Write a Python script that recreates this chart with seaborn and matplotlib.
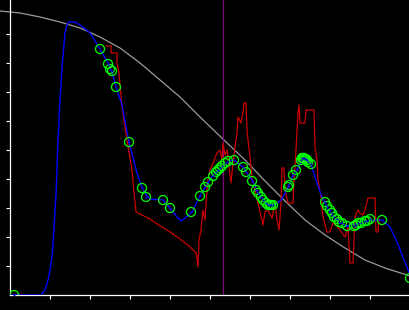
import matplotlib
matplotlib.use("Agg")
import matplotlib.pyplot as plt
import seaborn as sns

# ---- data ----
gray_x = [-10, 10, 30, 50, 70, 90, 110, 130, 150, 170, 190, 215, 235, 255, 275, 295, 315, 335, 355, 375, 400]
gray_y = [284, 282, 278, 273, 267, 258, 247, 232, 215, 198, 178, 154, 135, 114, 94, 75, 60, 47, 35, 27, 19]

vline_x = 213

blue_x = [0, 31, 35, 38, 40, 42, 43, 44, 46, 48, 50, 52, 55, 57, 59, 65, 70, 80, 90, 98,
          102, 106, 112, 119, 127, 132, 137, 140, 153, 160, 167, 171, 175, 182, 190, 195,
          203, 212, 218, 224, 233, 242, 248, 257, 265, 272, 278, 283, 287, 293, 297, 301,
          307, 312, 317, 323, 330, 337, 345, 357, 372, 380, 387, 393, 400]
blue_y = [0, 0, 5, 15, 25, 38, 52, 68, 100, 155, 195, 228, 262, 270, 273, 273, 270, 262, 246, 232,
          223, 208, 190, 153, 122, 108, 99, 96, 95, 87, 78, 74, 77, 83, 99, 108,
          120, 128, 133, 135, 128, 115, 102, 91, 90, 96, 108, 120, 125, 136, 136, 131,
          112, 98, 88, 78, 72, 69, 71, 74, 75, 68, 53, 38, 20]

red_x = [96, 101, 101, 107, 107, 109, 110, 112, 115, 117, 120, 122, 124, 126, 130, 140, 150, 160,
         170, 180, 186, 187, 188, 189, 191, 193, 195, 196, 198, 200, 203, 207, 210, 212, 213,
         215, 217, 219, 221, 223, 225, 227, 228, 231, 233, 234, 236, 237, 238, 240, 242,
         245, 248, 252, 253, 255, 258, 262, 265, 267, 269, 271, 272, 274, 275, 278, 283, 284,
         286, 288, 289,
         290, 295, 296, 304, 305, 307, 308, 311, 313, 317, 320, 323, 328, 332, 335,
         338, 340, 343, 345, 348, 350, 353, 355, 358, 365, 366, 368, 369]
red_y = [249, 249, 242, 242, 232, 222, 210, 188, 168, 155, 137, 125, 102, 83, 81, 76, 69, 63,
         56, 48, 42, 37, 28, 55, 65, 85, 75, 92, 115, 125, 132, 142, 145, 135, 152,
         140, 145, 128, 112, 132, 148, 162, 178, 172, 183, 192, 192, 165, 155, 138, 118,
         105, 92, 75, 70, 83, 85, 77, 92, 75, 65, 92, 127, 127, 105, 92, 92, 115,
         145, 182, 190,
         172, 172, 185, 185, 148, 135, 115, 98, 78, 63, 63, 72, 68, 62, 58,
         68, 32, 32, 78, 85, 82, 80, 85, 97, 97, 63, 63, 75]

pts_x = [4, 90, 98, 100, 102, 106, 119, 132, 136, 153, 160, 181, 190, 195, 198, 203, 206, 208,
         210, 212, 215, 218, 224, 233, 236, 242, 246, 248, 251, 253, 256, 258, 260, 261, 263,
         278, 279, 283, 286, 291, 292, 293, 294, 295, 296, 297, 298, 301, 315, 317, 320, 322,
         324, 327, 329, 332, 337, 344, 346, 348, 351, 355, 357, 360, 372, 400]
pts_y = [0, 246, 231, 226, 224, 208, 153, 107, 98, 95, 87, 83, 99, 108, 113, 119, 123, 125,
         127, 129, 132, 134, 135, 128, 123, 114, 105, 102, 98, 95, 92, 90, 90, 90, 90,
         108, 110, 120, 125, 135, 137, 137, 137, 136, 136, 135, 133, 131, 93, 89, 85, 82,
         78, 76, 73, 72, 69, 69, 70, 72, 72, 74, 74, 76, 75, 17]

x_ticks = [40, 80, 120, 160, 200, 240, 280, 320, 360]
y_ticks = [29, 58, 87, 116, 145, 174, 203, 232, 261]

# ---- figure ----
fig = plt.figure(figsize=(4.1, 3.1), dpi=100, facecolor="black")
ax = fig.add_axes([10 / 410, 15 / 310, 400 / 410, 295 / 310])
ax.set_facecolor("black")

sns.lineplot(x=gray_x, y=gray_y, ax=ax, color="#9a9a9a", lw=0.9, sort=False,
             estimator=None, clip_on=False, zorder=1)
ax.axvline(vline_x, color="#800080", lw=0.9, zorder=1.5)
sns.lineplot(x=red_x, y=red_y, ax=ax, color="#cc0000", lw=0.9, sort=False,
             estimator=None, zorder=2)
sns.lineplot(x=blue_x, y=blue_y, ax=ax, color="#0000ff", lw=1.0, sort=False,
             estimator=None, zorder=3)
sns.scatterplot(x=pts_x, y=pts_y, ax=ax, s=42, marker="o", facecolor="none",
                edgecolor="#00ff00", linewidth=0.9, zorder=4)
sns.scatterplot(x=pts_x, y=pts_y, ax=ax, s=2, marker="o", color="#0000cc",
                linewidth=0, zorder=5)

ax.set_xlim(0, 400)
ax.set_ylim(0, 295)
ax.set_xticks(x_ticks)
ax.set_yticks(y_ticks)
ax.set_xticklabels([])
ax.set_yticklabels([])
ax.tick_params(axis="both", colors="white", direction="out", length=3, width=0.8)
for s in ("top", "right"):
    ax.spines[s].set_visible(False)
for s in ("left", "bottom"):
    ax.spines[s].set_color("white")
    ax.spines[s].set_linewidth(0.9)
ax.set_xlabel("")
ax.set_ylabel("")

fig.savefig("out.png", dpi=100, facecolor="black")
